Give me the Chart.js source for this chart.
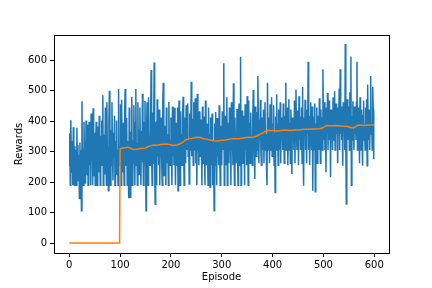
<!DOCTYPE html>
<html>
<head>
<meta charset="utf-8">
<script src="https://cdn.jsdelivr.net/npm/chart.js@4"></script>
<style>
  body { margin: 0; background: #fff; }
  #wrap { width: 432px; height: 288px; }
</style>
</head>
<body>
<div id="wrap"><canvas id="rewards" width="432" height="288"></canvas></div>
<script>
// reward per episode (episodes 0..599)
var rewards = [
  250, 360, 190, 403, 300, 230, 335, 190, 380, 262, 190, 318, 232, 305, 190, 378, 255, 322, 205, 290,
  146, 330, 190, 305, 106, 465, 222, 310, 190, 398, 262, 335, 195, 402, 282, 225, 388, 190, 305, 398,
  255, 318, 190, 425, 272, 338, 190, 442, 305, 222, 362, 190, 335, 398, 255, 190, 382, 305, 232, 418,
  305, 190, 352, 255, 402, 308, 485, 190, 282, 355, 225, 445, 332, 190, 462, 285, 318, 172, 402, 500,
  305, 190, 372, 255, 462, 302, 205, 362, 285, 418, 190, 335, 262, 402, 225, 305, 190, 505, 282, 318,
  255, 455, 190, 470, 305, 232, 395, 285, 190, 430, 505, 305, 255, 410, 190, 335, 262, 147, 445, 305,
  150, 365, 285, 480, 190, 338, 262, 452, 305, 190, 395, 505, 255, 328, 190, 462, 285, 372, 225, 445,
  305, 190, 368, 265, 490, 302, 190, 398, 255, 466, 305, 106, 338, 462, 255, 190, 478, 305, 352, 255,
  395, 568, 305, 190, 428, 262, 345, 592, 255, 127, 398, 305, 190, 472, 285, 355, 255, 438, 190, 335,
  285, 412, 255, 190, 462, 526, 305, 222, 385, 305, 190, 445, 262, 358, 305, 190, 463, 285, 338, 255,
  412, 305, 190, 448, 285, 362, 255, 444, 305, 190, 395, 305, 255, 445, 172, 338, 468, 262, 190, 432,
  305, 358, 255, 428, 480, 305, 190, 412, 338, 262, 452, 305, 392, 458, 285, 338, 194, 425, 305, 362,
  529, 285, 408, 338, 255, 462, 305, 388, 475, 262, 352, 190, 490, 305, 385, 255, 432, 338, 285, 405,
  305, 190, 448, 355, 262, 415, 305, 190, 468, 338, 255, 392, 305, 190, 445, 285, 358, 183, 412, 305,
  255, 425, 190, 338, 305, 106, 392, 255, 430, 305, 190, 410, 285, 362, 255, 452, 305, 190, 385, 338,
  255, 432, 305, 392, 590, 190, 338, 418, 255, 362, 478, 190, 305, 395, 262, 445, 305, 358, 190, 462,
  305, 388, 255, 524, 338, 190, 412, 305, 362, 262, 440, 305, 190, 392, 458, 305, 255, 611, 190, 358,
  435, 305, 262, 418, 338, 190, 455, 305, 392, 255, 482, 358, 190, 468, 305, 395, 262, 428, 338, 305,
  255, 412, 502, 338, 305, 210, 448, 362, 285, 430, 305, 548, 405, 262, 392, 338, 470, 305, 255, 412,
  362, 305, 438, 262, 392, 462, 305, 358, 255, 190, 526, 305, 412, 338, 262, 455, 362, 305, 478, 285,
  392, 305, 452, 255, 362, 166, 415, 338, 488, 305, 392, 255, 438, 358, 305, 462, 262, 412, 338, 395,
  305, 458, 362, 262, 418, 338, 526, 305, 392, 445, 255, 362, 472, 305, 395, 262, 438, 358, 227, 412,
  338, 395, 305, 468, 262, 412, 504, 358, 305, 435, 392, 255, 482, 338, 415, 305, 362, 445, 262, 512,
  305, 188, 412, 358, 470, 305, 395, 262, 438, 358, 595, 305, 418, 255, 392, 462, 338, 305, 448, 172,
  362, 415, 305, 458, 168, 392, 338, 445, 262, 418, 362, 305, 475, 392, 262, 438, 338, 412, 305, 570,
  392, 338, 462, 305, 418, 232, 445, 358, 492, 305, 392, 468, 338, 412, 216, 438, 358, 395, 305, 478,
  412, 338, 498, 305, 392, 458, 358, 445, 262, 418, 392, 507, 305, 570, 358, 448, 338, 412, 254, 462,
  392, 445, 305, 653, 358, 128, 418, 472, 338, 392, 448, 305, 495, 358, 612, 190, 418, 338, 465, 392,
  305, 448, 358, 412, 338, 462, 595, 305, 392, 445, 358, 262, 478, 392, 305, 438, 358, 254, 418, 468,
  338, 392, 305, 445, 358, 472, 254, 520, 392, 338, 438, 305, 412, 548, 358, 392, 305, 513, 438, 276
];

// running average (orange), read at the episodes where it changes
var avgEpisodes = [0, 99, 100, 105, 110, 115, 120, 127, 133, 140, 150, 158, 166, 173, 180, 186, 192, 198, 205, 212,
    218, 223, 228, 235, 242, 251, 258, 264, 270, 277, 284, 292, 300, 308, 316, 324, 332, 340, 348, 357,
    364, 370, 376, 382, 389, 395, 400, 410, 420, 428, 436, 444, 454, 462, 470, 480, 493, 500, 506, 515,
    525, 535, 546, 552, 559, 564, 569, 580, 590, 599];
var avgRewards = [0, 0, 309, 312, 313, 314, 312, 306, 308, 310, 312, 318, 322, 321, 323, 324, 325, 323, 320, 322,
    326, 330, 338, 342, 344, 347, 346, 342, 341, 338, 336, 335, 337, 338, 341, 343, 342, 344, 346, 347,
    348, 352, 357, 362, 370, 369, 369, 368, 370, 370, 369, 371, 372, 373, 373, 374, 375, 379, 386, 385,
    386, 384, 383, 380, 378, 383, 387, 386, 387, 387];

var xTicks = [0, 100, 200, 300, 400, 500, 600];
var yTicks = [0, 100, 200, 300, 400, 500, 600];

var tickFont = { family: 'DejaVu Sans', size: 10, lineHeight: 1.2 };

// matplotlib style box around the plot area
var frame = {
    id: 'frame',
    afterDraw: function(chart) {
        var a = chart.chartArea, ctx = chart.ctx;
        ctx.save();
        ctx.strokeStyle = '#000';
        ctx.lineWidth = 1;
        ctx.strokeRect(Math.round(a.left) + 0.5, Math.round(a.top) + 0.5,
            Math.round(a.right - a.left), Math.round(a.bottom - a.top));
        ctx.restore();
    }
};

var ctxEl = document.getElementById("rewards");
var rewardChart = new Chart(ctxEl, {
    type: 'line',
    data: {
        datasets: [{
            label: 'Reward',
            data: rewards.map(function(r, i) { return { x: i, y: r }; }),
            borderColor: '#1f77b4',
            borderWidth: 1.5,
            pointRadius: 0,
            tension: 0,
            order: 2
        }, {
            label: 'Average',
            data: avgEpisodes.map(function(e, i) { return { x: e, y: avgRewards[i] }; }),
            borderColor: '#ff7f0e',
            borderWidth: 1.5,
            pointRadius: 0,
            tension: 0,
            order: 1
        }]
    },
    options: {
        responsive: false,
        animation: false,
        events: [],
        layout: { padding: { left: 0, right: 43, top: 35, bottom: 0 } },
        plugins: {
            legend: { display: false },
            tooltip: { enabled: false }
        },
        scales: {
            x: {
                type: 'linear',
                min: -30,
                max: 629,
                afterBuildTicks: function(s) { s.ticks = xTicks.map(function(v) { return { value: v }; }); },
                afterFit: function(s) { s.height = 35; },
                grid: { drawOnChartArea: false, drawTicks: true, tickLength: 4, color: '#000' },
                border: { display: false },
                ticks: { font: tickFont, color: '#000', padding: 2, maxRotation: 0 },
                title: { display: true, text: 'Episode', font: tickFont, color: '#000', padding: { top: 0, bottom: 5 } }
            },
            y: {
                type: 'linear',
                min: -32.5,
                max: 682.5,
                afterBuildTicks: function(s) { s.ticks = yTicks.map(function(v) { return { value: v }; }); },
                afterFit: function(s) { s.width = 54; },
                grid: { drawOnChartArea: false, drawTicks: true, tickLength: 4, color: '#000' },
                border: { display: false },
                ticks: { font: tickFont, color: '#000', padding: 3 },
                title: { display: true, text: 'Rewards', font: tickFont, color: '#000', padding: { top: 13, bottom: 0 } }
            }
        }
    },
    plugins: [frame]
});
</script>
</body>
</html>
